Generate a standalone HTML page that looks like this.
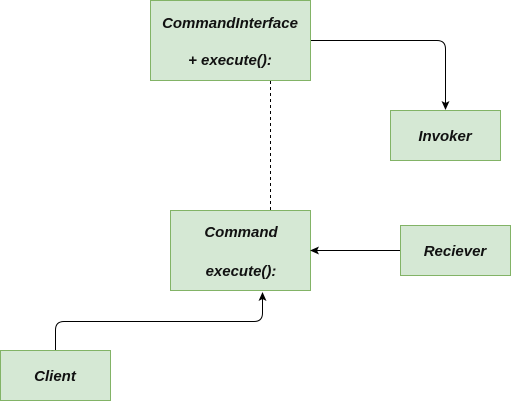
<!DOCTYPE html>
<html><head><style>
html,body{margin:0;padding:0;background:#fff;}
svg{display:block;}
text{font-family:"Liberation Sans",sans-serif;font-style:italic;font-weight:bold;font-size:15px;fill:#111;}
</style></head><body>
<svg width="511" height="401" viewBox="0 0 511 401" xmlns="http://www.w3.org/2000/svg">
<defs><marker id="a" markerWidth="10" markerHeight="10" refX="8" refY="5" orient="auto" markerUnits="userSpaceOnUse">
<path d="M0,1 L9,5 L0,9 L2,5 Z" fill="#000"/></marker></defs>
<g fill="#d5e8d4" stroke="#82b366" stroke-width="1">
<rect x="150.5" y="0.5" width="160" height="80"/>
<rect x="390.5" y="110.5" width="110" height="50"/>
<rect x="170.5" y="210.5" width="140" height="80"/>
<rect x="400.5" y="225.5" width="110" height="50"/>
<rect x="0.5" y="350.5" width="110" height="50"/>
</g>
<g fill="none" stroke="#000" stroke-width="1">
<path d="M311 40.5 H437 Q445.5 40.5 445.5 49 V109" marker-end="url(#a)"/>
<path d="M270.5 81 V210" stroke-dasharray="3,3"/>
<path d="M400 250.5 H311" marker-end="url(#a)"/>
<path d="M55.5 350 V330 Q55.5 321.5 64 321.5 H254 Q262.5 321.5 262.5 313 V293" marker-end="url(#a)"/>
</g>
<g text-anchor="middle">
<text x="230" y="28">CommandInterface</text>
<text x="230" y="65">+ execute():</text>
<text x="445" y="141">Invoker</text>
<text x="241" y="237">Command</text>
<text x="241" y="276">execute():</text>
<text x="455" y="256">Reciever</text>
<text x="55" y="381">Client</text>
</g>
</svg>
</body></html>
